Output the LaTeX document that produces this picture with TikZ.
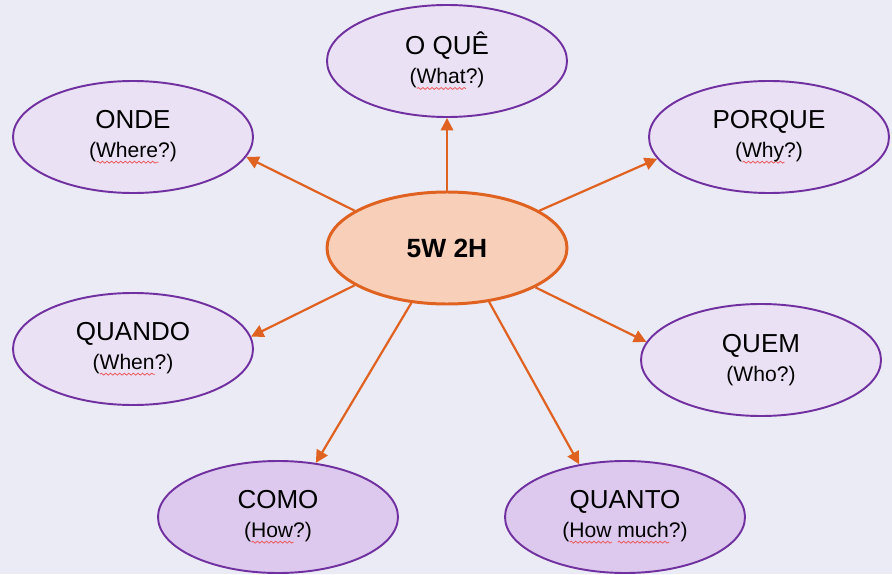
\documentclass[tikz,border=0pt]{standalone}
\usepackage{fontspec}
\setmainfont{Liberation Sans}
\usetikzlibrary{shapes,positioning,arrows.meta,decorations.pathmorphing}

\definecolor{fundo}{RGB}{235,235,245}
\definecolor{lilas}{RGB}{235,225,245}
\definecolor{lilasescuro}{RGB}{221,201,238}
\definecolor{roxo}{RGB}{112,48,160}
\definecolor{pessego}{RGB}{248,208,186}
\definecolor{laranja}{RGB}{224,98,32}
\definecolor{errovermelho}{RGB}{235,90,90}

\newlength\largura
\newcommand\ondinha[1]{\settowidth{\largura}{#1}\rlap{\tikz[baseline=0pt]
    \draw [errovermelho,line width=0.45pt,decorate,
      decoration={snake,amplitude=0.55pt,segment length=2.6pt}]
    (0,-2.6pt) -- (\largura,-2.6pt);}#1}
\newcommand\pergunta{\fontsize{12}{16.5}\selectfont}

\begin{document}
\begin{tikzpicture}[
    ideia/.style={ellipse,draw=roxo,line width=1.1pt,fill=lilas,
      minimum width=4.8cm,minimum height=2.24cm,inner sep=0pt,
      align=center,font=\fontsize{14.8}{16.5}\selectfont},
    seta/.style={draw=laranja,line width=1.25pt,
      -{Triangle[length=0.25cm,width=0.25cm]},fill=laranja}
  ]
    \useasboundingbox (0,0) rectangle (17.84,11.48);
    \fill [fundo] (0,0) rectangle (17.84,11.48);

    % centro
    \node [ideia,draw=laranja,fill=pessego,line width=1.7pt,
      font=\fontsize{15}{16}\selectfont\bfseries] (c) at (8.94,6.52) {5W 2H};

    % as sete perguntas
    \node [ideia] (oque) at (8.94,10.26) {O QUÊ\\{\pergunta(\ondinha{What}?)}};
    \node [ideia] (onde) at (2.66,8.74) {ONDE\\{\pergunta(\ondinha{Where}?)}};
    \node [ideia] (porque) at (15.38,8.74) {PORQUE\\{\pergunta(\ondinha{Why}?)}};
    \node [ideia] (quando) at (2.66,4.50) {QUANDO\\{\pergunta(\ondinha{When}?)}};
    \node [ideia] (quem) at (15.22,4.28) {QUEM\\{\pergunta(Who?)}};
    \node [ideia,fill=lilasescuro] (como) at (5.56,1.14) {COMO\\{\pergunta(\ondinha{How}?)}};
    \node [ideia,fill=lilasescuro] (quanto) at (12.50,1.14)
      {QUANTO\\{\pergunta(\ondinha{How} \ondinha{much}?)}};

    \foreach \alvo/\a/\b in {oque/90/270,onde/158/350,porque/22/191,
      quando/202/6,quem/336/171,como/237/55,quanto/308/131}
    {
      \draw [seta] (c.\a) -- (\alvo.\b);
    }
  \end{tikzpicture}
\end{document}
